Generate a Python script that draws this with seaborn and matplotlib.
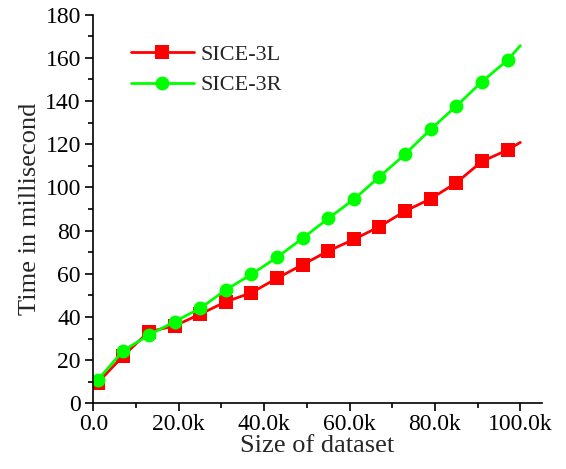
import matplotlib
matplotlib.use("Agg")
import matplotlib.pyplot as plt
import pandas as pd
import seaborn as sns
from matplotlib.ticker import FuncFormatter, MultipleLocator

# dataset sizes (last point has no marker, curve just continues to 100k)
sizes = [1000, 7000, 13000, 19000, 25000, 31000, 37000, 43000, 49000,
         55000, 61000, 67000, 73000, 79000, 85000, 91000, 97000, 100000]
sice_3l = [9.5, 22.0, 33.2, 35.8, 41.3, 47.0, 51.2, 57.9, 64.2,
           70.5, 75.9, 81.8, 89.0, 94.7, 102.1, 112.0, 117.3, 120.8]
sice_3r = [10.8, 24.4, 31.6, 37.8, 44.0, 52.5, 59.7, 67.6, 76.4,
           85.6, 94.4, 104.9, 115.3, 126.9, 137.6, 148.9, 158.9, 165.6]
series_names = ["SICE-3L", "SICE-3R"]

df = pd.concat(
    [
        pd.DataFrame({"size": sizes, "time": sice_3l, "method": series_names[0]}),
        pd.DataFrame({"size": sizes, "time": sice_3r, "method": series_names[1]}),
    ],
    ignore_index=True,
)

sns.set_style("ticks")
plt.rcParams["font.family"] = ["Liberation Serif", "DejaVu Serif"]

fig = plt.figure(figsize=(5.66, 4.69), dpi=100)
ax = fig.add_axes([0.165, 0.140, 0.792, 0.829])

sns.lineplot(
    data=df,
    x="size",
    y="time",
    hue="method",
    style="method",
    palette={"SICE-3L": "#ff0000", "SICE-3R": "#00ff00"},
    markers={"SICE-3L": "s", "SICE-3R": "o"},
    dashes=False,
    markersize=10,
    markeredgewidth=0,
    linewidth=2,
    markevery=slice(0, len(sizes) - 1),
    ax=ax,
)

ax.set_xlim(0, 105000)
ax.set_ylim(0, 180)
ax.xaxis.set_major_locator(MultipleLocator(20000))
ax.xaxis.set_minor_locator(MultipleLocator(10000))
ax.yaxis.set_major_locator(MultipleLocator(20))
ax.yaxis.set_minor_locator(MultipleLocator(10))
ax.xaxis.set_major_formatter(
    FuncFormatter(lambda v, p: "0.0" if v == 0 else f"{v / 1000:.1f}k")
)
ax.tick_params(which="major", length=6, width=1.2, labelsize=17, color="black",
               labelcolor="black", pad=3)
ax.tick_params(axis="x", which="major", pad=2)
ax.tick_params(which="minor", length=3.5, width=1.2, color="black")
for side in ["top", "right"]:
    ax.spines[side].set_visible(False)
for side in ["left", "bottom"]:
    ax.spines[side].set_linewidth(1.2)
    ax.spines[side].set_color("black")

ax.set_xlabel("Size of dataset", fontsize=19, labelpad=0)
ax.set_ylabel("Time in millisecond", fontsize=19, labelpad=3)

handles, labels = ax.get_legend_handles_labels()
ax.legend(
    handles,
    labels,
    loc="upper left",
    bbox_to_anchor=(0.04, 0.975),
    frameon=False,
    fontsize=16,
    handlelength=2.8,
    handletextpad=0.3,
    labelspacing=0.45,
)

fig.savefig("out.png", dpi=100)
